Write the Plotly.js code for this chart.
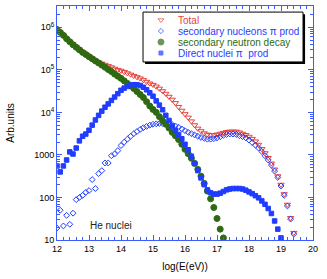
<!DOCTYPE html>
<html>
<head>
<meta charset="utf-8">
<script src="https://cdn.plot.ly/plotly-3.0.1.min.js"></script>
<style>html,body{margin:0;padding:0;background:#fff;}#chart{width:327px;height:279px;}</style>
</head>
<body>
<div id="chart"></div>
<script>
// log10(E/eV) grid
var logE = [12.0,12.1,12.2,12.3,12.4,12.5,12.6,12.7,12.8,12.9,
            13.0,13.1,13.2,13.3,13.4,13.5,13.6,13.7,13.8,13.9,
            14.0,14.1,14.2,14.3,14.4,14.5,14.6,14.7,14.8,14.9,
            15.0,15.1,15.2,15.3,15.4,15.5,15.6,15.7,15.8,15.9,
            16.0,16.1,16.2,16.3,16.4,16.5,16.6,16.7,16.8,16.9,
            17.0,17.1,17.2,17.3,17.4,17.5,17.6,17.7,17.8,17.9,
            18.0,18.1,18.2,18.3,18.4,18.5,18.6,18.7,18.8,18.9,
            19.0,19.1,19.2,19.3,19.4];

var total = [891000,759000,646000,537000,457000,398000,347000,302000,263000,234000,
             209000,186000,166000,151000,141000,132000,123000,115000,107000,100000,
             95500,89100,83200,77600,72400,67600,63100,57500,52500,47900,
             44700,40700,36300,31600,27500,23400,20000,16600,13500,11000,
             9120,7590,6170,5010,4170,3630,3240,3020,2950,2950,
             3020,3160,3310,3470,3550,3550,3550,3390,3160,2950,
             2690,2400,2090,1740,1380,1100,851,631,457,316,
             200,120,68,33,14.8];

var secNucleons = [19.1,50,21.4,38,23.4,42.7,89,100,112,132,
                   145,263,162,363,427,646,646,955,1050,1260,
                   1660,2000,2340,2750,3160,3550,3980,4370,4680,5010,
                   5250,5370,5500,5500,5500,5370,5130,4790,4470,4070,
                   3720,3390,3160,2950,2750,2570,2450,2340,2340,2400,
                   2510,2690,2880,3020,3090,3090,3020,2820,2690,2510,
                   2240,1950,1700,1450,1200,955,759,575,417,295,
                   186,112,63,31,13.8];

var secNeutron = [891000,759000,646000,537000,457000,389000,339000,295000,257000,229000,
                  204000,182000,162000,145000,129000,115000,102000,91200,79400,70800,
                  63100,55000,47900,41700,36300,30900,26300,22400,17800,14100,
                  11700,10000,7940,6310,5250,4270,3390,2820,2290,1780,
                  1350,1070,832,631,457,316,214,141,93,58,
                  32,18,11.2,null,null,null,null,null,null,null,
                  null,null,null,null,null,null,null,null,null,null,
                  null,null,null,null,null];

var directNuclei = [550,398,550,759,1175,1050,1450,2140,2750,3090,
                    3800,5010,6610,8510,10700,13200,15800,19100,22900,27500,
                    33100,37200,40700,43700,44700,44700,42700,38900,33900,28800,
                    24000,18600,14800,11500,8510,6460,4790,3800,3020,2400,
                    1780,1320,933,631,427,288,200,151,129,120,
                    120,126,138,151,158,162,162,162,158,148,
                    135,123,110,98,83,69,55,42,28,18,
                    11.2,null,null,null,null];

var seriesNames = ["Total","secondary nucleons \u03c0 prod","secondary neutron decay","Direct nuclei \u03c0  prod"];
var yTickVals = [10,100,1000,1e4,1e5,1e6];
var yTickText = ["10","100","1000","10<sup>4</sup>","10<sup>5</sup>","10<sup>6</sup>"];
var xTickVals = [12,13,14,15,16,17,18,19,20];

var RED = "#e8403a", BLUE = "#1f3cff", GREEN = "#2d6a12", AXIS = "#3d5cff";
var colors = [RED, BLUE, GREEN, BLUE];
var symbols = ["triangle-down-open","diamond-open","circle","square"];
var sizes = [5.5,4.5,6,4.5];

var minorY = [];
for (var d = 1; d <= 6; d++) { for (var m = 2; m <= 9; m++) { minorY.push(m * Math.pow(10, d)); } }

var ys = [total, secNucleons, secNeutron, directNuclei];
var traces = ys.map(function (y, i) {
  return {
    x: logE, y: y, type: "scatter", mode: "markers", name: seriesNames[i],
    showlegend: false, cliponaxis: true,
    marker: {symbol: symbols[i], size: sizes[i], color: colors[i],
             line: {color: colors[i], width: 1}}
  };
});

// legend keys (drawn in a 0..1 overlay frame)
var legRowY = [0.940, 0.893, 0.846, 0.799];
var legKeyX = 0.406, legTextX = 0.465;
traces.push({
  x: legRowY.map(function(){return legKeyX;}), y: legRowY, xaxis: "x2", yaxis: "y2",
  type: "scatter", mode: "markers", showlegend: false, hoverinfo: "skip",
  marker: {symbol: symbols, size: [5,4,6,4], color: colors, line: {color: colors, width: 1}}
});

var annotations = seriesNames.map(function (n, i) {
  return {xref: "paper", yref: "paper", x: legTextX, y: legRowY[i], xanchor: "left", yanchor: "middle",
          text: n, showarrow: false, font: {family: "Liberation Sans, Arial, sans-serif", size: 10, color: colors[i]}};
});
annotations.push({xref: "x", yref: "y", x: 12.98, y: Math.log10(21.5), xanchor: "left", yanchor: "middle",
  text: "He nuclei", showarrow: false, font: {family: "Liberation Sans, Arial, sans-serif", size: 10, color: "#222"}});

var layout = {
  width: 327, height: 279,
  margin: {l: 57, r: 14, t: 6, b: 39},
  paper_bgcolor: "#fff", plot_bgcolor: "#fff",
  font: {family: "Liberation Sans, Arial, sans-serif", size: 9, color: "#000"},
  showlegend: false,
  xaxis: {
    range: [12, 20], tickmode: "array", tickvals: xTickVals,
    ticks: "inside", ticklen: 5, tickcolor: AXIS, tickwidth: 1,
    showline: true, linecolor: AXIS, linewidth: 1, mirror: "ticks",
    showgrid: false, zeroline: false,
    tickfont: {size: 9, color: "#000"},
    minor: {dtick: 0.2, ticks: "inside", ticklen: 3, tickcolor: AXIS, showgrid: false},
    title: {text: "log(E(eV))", font: {size: 10, color: "#000"}, standoff: 10}
  },
  yaxis: {
    type: "log", range: [1, 6.5], tickmode: "array", tickvals: yTickVals, ticktext: yTickText,
    ticks: "inside", ticklen: 5, tickcolor: AXIS, tickwidth: 1,
    showline: true, linecolor: AXIS, linewidth: 1, mirror: "ticks",
    showgrid: false, zeroline: false,
    tickfont: {size: 9, color: "#000"},
    minor: {tickmode: "array", tickvals: minorY, ticks: "inside", ticklen: 3, tickcolor: AXIS, showgrid: false},
    title: {text: "Arb.units", font: {size: 10, color: "#000"}, standoff: 17}
  },
  xaxis2: {overlaying: "x", range: [0, 1], visible: false, anchor: "y2"},
  yaxis2: {overlaying: "y", range: [0, 1], visible: false, anchor: "x2"},
  shapes: [
    {type: "rect", layer: "below", xref: "paper", yref: "paper", x0: 0.344, x1: 0.969, y0: 0.752, y1: 0.965,
     fillcolor: "#000", line: {width: 0}},
    {type: "rect", layer: "below", xref: "paper", yref: "paper", x0: 0.336, x1: 0.961, y0: 0.761, y1: 0.974,
     fillcolor: "#fff", line: {color: "#000", width: 1}}
  ],
  annotations: annotations
};

Plotly.newPlot("chart", traces, layout, {staticPlot: true, displayModeBar: false});
</script>
</body>
</html>
